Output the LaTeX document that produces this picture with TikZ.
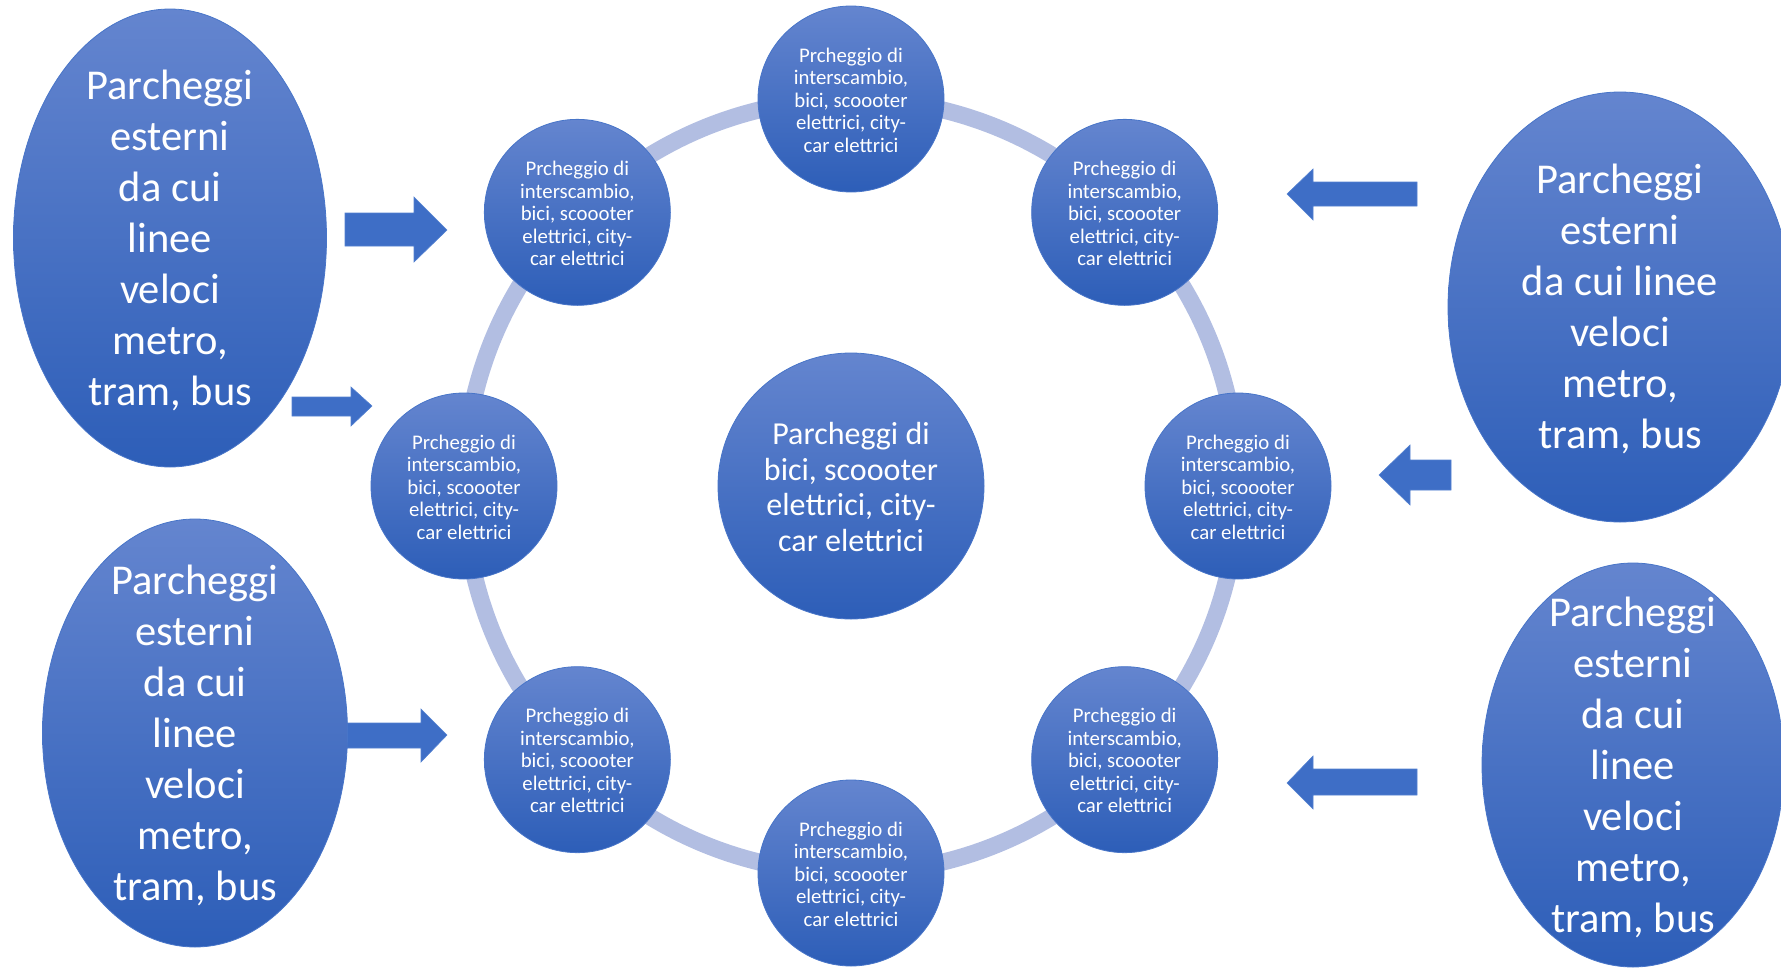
\documentclass[tikz,border=0pt]{standalone}
\usepackage{fontspec}
\setmainfont{Carlito}
\usetikzlibrary{shapes.geometric,calc}
\definecolor{topblue}{RGB}{100,133,207}
\definecolor{botblue}{RGB}{45,94,184}
\definecolor{edgeblue}{RGB}{72,117,200}
\definecolor{ringblue}{RGB}{178,190,226}
\definecolor{arrowblue}{RGB}{62,110,198}
\definecolor{arrowedge}{RGB}{82,128,208}
\begin{document}
\begin{tikzpicture}[x=1pt,y=-1pt,
  shade/.style={top color=topblue, bottom color=botblue, draw=edgeblue, line width=0.8pt},
  ball/.style={circle, inner sep=0pt, shade, minimum size=#1},
  oval/.style={ellipse, inner sep=0pt, shade},
  smalltxt/.style={text=white, align=center, inner sep=0pt, font=\fontsize{20.8}{22.5}\selectfont},
  midtxt/.style={text=white, align=center, inner sep=0pt, font=\fontsize{32}{35.6}\selectfont},
  bigtxt/.style={text=white, align=center, inner sep=0pt, font=\fontsize{42.5}{51}\selectfont},
  blockarrow/.style={fill=arrowblue, draw=arrowedge, line width=0.6pt, line join=miter}
]
\useasboundingbox (0,0) rectangle (1781,967);

% ring
\coordinate (ringc) at (851,486);
\draw[ringblue, line width=17pt] (ringc) circle[radius=387];

% central circle
\node[ball=266pt] (c0) at (ringc) {};
\node[midtxt] (c0t) at ($(c0.center)+(0,1)$) {Parcheggi di\\bici, scoooter\\elettrici, city-\\car elettrici};

% small circles around the ring
\foreach \a/\n in {90/1,45/2,0/3,-45/4,-90/5,-135/6,180/7,135/8}{
  \node[ball=186pt] (s\n) at ($(ringc)+(\a:387)$) {};
}
\foreach \n in {1,...,8}{
  \node[smalltxt] (s\n t) at ($(s\n.center)+(0,1)$) {Prcheggio di\\interscambio,\\bici, scoooter\\elettrici, city-\\car elettrici};
}

% block arrows
\draw[blockarrow] (345,213) -- (414,213) -- (414,197) -- (447,230) -- (414,262) -- (414,246) -- (345,246) -- cycle;
\draw[blockarrow] (292,397) -- (351,397) -- (351,387) -- (372,406) -- (351,426) -- (351,416) -- (292,416) -- cycle;
\draw[blockarrow] (345,723) -- (421,723) -- (421,709) -- (447,735) -- (421,762) -- (421,748) -- (345,748) -- cycle;
\draw[blockarrow] (1417,182) -- (1313,182) -- (1313,169) -- (1287,194) -- (1313,220) -- (1313,206) -- (1417,206) -- cycle;
\draw[blockarrow] (1451,460) -- (1410,460) -- (1410,445) -- (1379,475) -- (1410,505) -- (1410,490) -- (1451,490) -- cycle;
\draw[blockarrow] (1417,769) -- (1313,769) -- (1313,756) -- (1287,783) -- (1313,809) -- (1313,795) -- (1417,795) -- cycle;

% outer ellipses
\node[oval, minimum width=313pt, minimum height=458pt] (e1) at (170,238) {};
\node[bigtxt] (e1t) at (170,240) {Parcheggi\\esterni\\da cui\\linee\\veloci\\metro,\\tram, bus};
\node[oval, minimum width=344pt, minimum height=430pt] (e2) at (1620,307) {};
\node[bigtxt] (e2t) at (1620,309) {Parcheggi\\esterni\\da cui linee\\veloci\\metro,\\tram, bus};
\node[oval, minimum width=305pt, minimum height=428pt] (e3) at (195,733) {};
\node[bigtxt] (e3t) at (195,735) {Parcheggi\\esterni\\da cui\\linee\\veloci\\metro,\\tram, bus};
\node[oval, minimum width=302pt, minimum height=404pt] (e4) at (1633,765) {};
\node[bigtxt] (e4t) at (1633,767) {Parcheggi\\esterni\\da cui\\linee\\veloci\\metro,\\tram, bus};
\end{tikzpicture}
\end{document}
